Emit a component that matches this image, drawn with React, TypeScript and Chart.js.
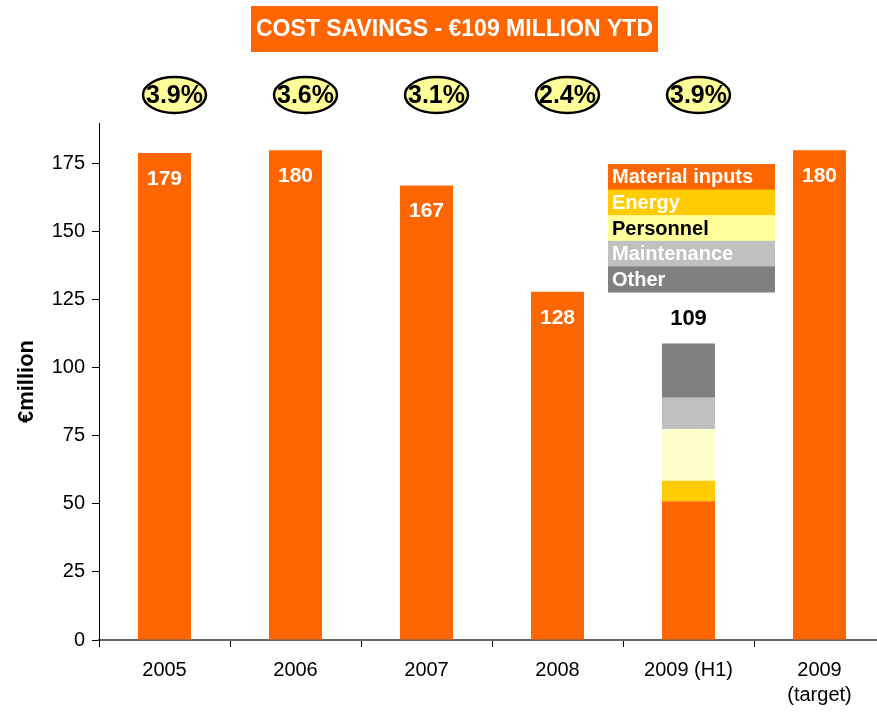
import React, { useEffect, useRef } from "react";
import { Chart, registerables } from "chart.js";

Chart.register(...registerables);

const categories: (string | string[])[] = ["2005", "2006", "2007", "2008", "2009 (H1)", ["2009", "(target)"]];
const totals: (number | null)[] = [179, 180, 167, 128, null, 180];
const materialInputs: (number | null)[] = [null, null, null, null, 51, null];
const energy: (number | null)[] = [null, null, null, null, 7.5, null];
const personnel: (number | null)[] = [null, null, null, null, 19, null];
const maintenance: (number | null)[] = [null, null, null, null, 11.5, null];
const other: (number | null)[] = [null, null, null, null, 20, null];
const shares: string[] = ["3.9%", "3.6%", "3.1%", "2.4%", "3.9%", ""];
const h1Total = 109;
const titleText = "COST SAVINGS - €109 MILLION YTD";
const legendItems = [
  { label: "Material inputs", color: "#FF6600", text: "#FFFFFF" },
  { label: "Energy", color: "#FFCC00", text: "#FFFFFF" },
  { label: "Personnel", color: "#FFFF99", text: "#000000" },
  { label: "Maintenance", color: "#C0C0C0", text: "#FFFFFF" },
  { label: "Other", color: "#808080", text: "#FFFFFF" },
];

const FONT = "'Liberation Sans', Arial, sans-serif";

const decorPlugin = {
  id: "decor",
  afterDatasetsDraw(chart: any) {
    const ctx = chart.ctx as CanvasRenderingContext2D;
    ctx.save();
    // title box
    ctx.fillStyle = "#FF6600";
    ctx.fillRect(251, 6, 407, 46);
    ctx.fillStyle = "#FFFFFF";
    ctx.font = `bold 23px ${FONT}`;
    ctx.textAlign = "center";
    ctx.textBaseline = "middle";
    ctx.fillText(titleText, 454.5, 30);

    const xScale = chart.scales.x;
    const yScale = chart.scales.y;

    // ellipses with shares
    shares.forEach((s, i) => {
      if (!s) return;
      const cx = xScale.getPixelForValue(i) + 10;
      const cy = 95;
      ctx.beginPath();
      ctx.ellipse(cx, cy, 31.5, 18, 0, 0, Math.PI * 2);
      ctx.fillStyle = "#FFFF99";
      ctx.fill();
      ctx.lineWidth = 2.5;
      ctx.strokeStyle = "#000000";
      ctx.stroke();
      ctx.fillStyle = "#000000";
      ctx.font = `bold 25px ${FONT}`;
      ctx.fillText(s, cx, cy + 1);
    });

    // value labels inside bars
    ctx.font = `bold 21px ${FONT}`;
    ctx.fillStyle = "#FFFFFF";
    totals.forEach((v, i) => {
      if (v == null) return;
      const cx = xScale.getPixelForValue(i);
      const top = yScale.getPixelForValue(v);
      ctx.fillText(String(v), cx, top + 26);
    });
    // stacked total label
    const idx = 4;
    ctx.fillStyle = "#000000";
    ctx.font = `bold 22px ${FONT}`;
    ctx.fillText(String(h1Total), xScale.getPixelForValue(idx), yScale.getPixelForValue(h1Total) - 24);

    // legend box
    const lx = 608, ly = 164, lw = 167, rh = 25.6;
    legendItems.forEach((it, i) => {
      ctx.fillStyle = it.color;
      ctx.fillRect(lx, ly + i * rh, lw, rh + 0.5);
      ctx.fillStyle = it.text;
      ctx.font = `bold 20px ${FONT}`;
      ctx.textAlign = "left";
      ctx.fillText(it.label, lx + 4, ly + i * rh + rh / 2 + 1);
    });
    ctx.restore();
  },
};

export default function App() {
  const ref = useRef<HTMLCanvasElement>(null);
  useEffect(() => {
    if (!ref.current) return;
    const mk = (label: string, data: (number | null)[], color: string) => ({
      label,
      data,
      backgroundColor: color,
      borderWidth: 0,
      barPercentage: 0.405,
      categoryPercentage: 1,
      stack: "s",
    });
    const chart = new Chart(ref.current, {
      type: "bar",
      data: {
        labels: categories as any,
        datasets: [
          mk("Total", totals, "#FF6600"),
          mk("Material inputs", materialInputs, "#FF6600"),
          mk("Energy", energy, "#FFCC00"),
          mk("Personnel", personnel, "#FFFFCC"),
          mk("Maintenance", maintenance, "#C0C0C0"),
          mk("Other", other, "#808080"),
        ],
      },
      options: {
        animation: false,
        responsive: false,
        devicePixelRatio: 1,
        layout: { padding: { top: 123, left: 0, right: 0, bottom: 0 } },
        plugins: {
          legend: { display: false },
          tooltip: { enabled: false },
          title: { display: false },
        },
        scales: {
          x: {
            stacked: true,
            offset: true,
            grid: {
              offset: true,
              drawOnChartArea: false,
              drawTicks: true,
              tickLength: 7,
              color: "#000000",
              lineWidth: 1,
            },
            border: { display: true, color: "#666666", width: 2 },
            ticks: {
              color: "#000000",
              font: { family: FONT, size: 20, lineHeight: 1.25 },
              padding: 11,
              maxRotation: 0,
              autoSkip: false,
            },
            afterFit: (scale: any) => {
              scale.height = 75;
            },
          },
          y: {
            stacked: true,
            min: 0,
            max: 190,
            afterBuildTicks: (scale: any) => {
              scale.ticks = [0, 25, 50, 75, 100, 125, 150, 175].map((v) => ({ value: v }));
            },
            grid: {
              drawOnChartArea: false,
              drawTicks: true,
              tickLength: 7,
              color: "#000000",
            },
            border: { display: true, color: "#000000", width: 1 },
            ticks: {
              color: "#000000",
              font: { family: FONT, size: 20 },
              padding: 7,
            },
            title: {
              display: true,
              text: "€million",
              color: "#000000",
              font: { family: FONT, size: 22, weight: "bold" },
              padding: { top: 14, bottom: 0 },
            },
            afterFit: (scale: any) => {
              scale.width = 99;
            },
          },
        },
      },
      plugins: [decorPlugin],
    } as any);
    return () => chart.destroy();
  }, []);
  return (
    <div style={{ position: "fixed", left: 0, top: 0, width: 877, height: 715, overflow: "hidden", background: "#fff" }}>
      <canvas ref={ref} width={885} height={715} style={{ display: "block" }} />
    </div>
  );
}
